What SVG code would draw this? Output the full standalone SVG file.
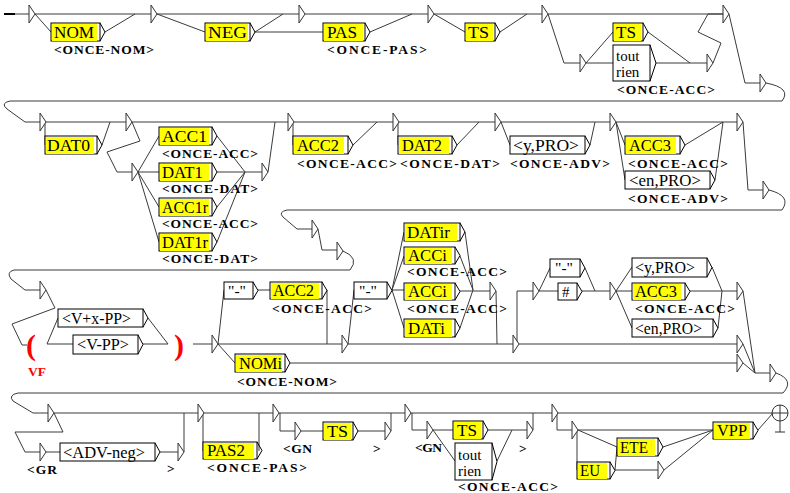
<svg xmlns="http://www.w3.org/2000/svg" xmlns:xlink="http://www.w3.org/1999/xlink" width="790" height="493" viewBox="0 0 790 493">
<style>
.ln{fill:none;stroke:#3a3a3a;stroke-width:1}
.bx{fill:#fff;stroke:#000;stroke-width:1}
.yl{fill:#ff0;stroke:none}
.ar{fill:none;stroke:#000;stroke-width:1}
.eps{fill:#fff;stroke:#333;stroke-width:1}
.tx{font-family:"Liberation Serif",serif;font-size:17px;fill:#000}
.sm{font-family:"Liberation Serif",serif;font-size:15px;fill:#000}
.out{font-family:"Liberation Serif",serif;font-size:13.5px;font-weight:bold;fill:#000}
.red{fill:#f00}
.par{font-family:"Liberation Serif",serif;font-size:30px;font-weight:bold;fill:#f00}
</style>
<defs>
<path id="e" class="eps" d="M0,-9V9L6,0Z"/>
</defs>
<rect width="790" height="493" fill="#fff"/>
<g id="connectors" class="ln">
<path d="M4,14H15" stroke="#000" stroke-width="2"/>
<path d="M15,14H29M35,14H151M35,14L51,32M105,32L135,14M157,14H299M157,14L205,32M255,32L283,14M255,32H323M305,14H428M370,32L412,14M434,14H542M434,14L465,32M500,32L527,14M548,14H723M548,14L564,63H580M586,63L613,32M586,63H613M648,32L690,63M656,63H707M713,63L721,43L698,32L708,14L723,14M729,14L745,83H760"/>
<path d="M766,83Q792,88 782,101L10,101Q0,103 7,109L25,122H40"/>
<path d="M46,122H126M45,122V145M102,145L110,122M132,122H288M132,122L140,141L107,152L117,172H132M138,172L159,136M138,172H159M138,172L159,207M138,172L159,242M217,136L245,172M217,172H262M217,207L245,172M217,242L245,172M268,172L275,122M294,122H393M293,122V145M353,145L377,122M399,122H495M398,122V145M457,145L479,122M501,122H610M501,122L510,145M590,145L595,122M616,122H737M616,122L625,145M616,122L625,180M685,145L723,122M715,180L723,122M743,122L748,190H763"/>
<path d="M769,190Q792,196 782,210L287,210Q278,212 283,217L297,229H312M318,229L322,250H337M343,251Q360,258 350,270L14,270Q6,272 11,279L25,290H40"/>
<path d="M46,290L55,308L12,324L22,345H27M47,344L58,318M47,344H73M148,318L168,344M143,344H168M193,344H212M218,344L224,290M218,344H342M218,344L235,363M258,290H270M327,290V344M348,344H513M348,344L354,290M392,290L404,232M392,290L404,256M392,290H404M392,290L404,328M465,232L473,290M460,256L473,290M460,291H490M460,328L473,290M496,291L497,344M517,344V291H533M519,344H737M539,291L550,268M539,291H558M585,268L595,291M582,291H610M616,291L632,267M616,291H632M616,291L632,328M712,267L722,291M718,328L722,291M690,291H737M743,291L755,373H770M743,344L755,373M743,363L755,373M290,363H737"/>
<path d="M776,373Q795,380 783,393L18,393Q8,395 13,401L33,413H48"/>
<path d="M54,413H198M54,413L63,432L15,432L25,452H40M46,452H60M160,452H178M184,452V413M204,413H273M203,413V451M259,451V413M279,413H405M280,413V431H295M301,431H323M358,431H385M391,431V413M411,413H552M412,413V430H427M433,430H453M433,430L455,461M488,430H527M497,461L512,430M533,430V413M558,413H772M557,413V430H572M578,430H713M578,430L617,447M577,430V470M615,470L617,447M615,470H658M663,447L713,430M664,470L713,430M758,430L773,413"/>
</g>
<g id="n_e1"><use href="#e" x="29" y="14"/></g>
<g id="n_nom"><rect class="bx" x="51" y="23" width="49" height="18"/><rect class="yl" x="52" y="24" width="45" height="17"/><path class="ar" d="M100,23L105,32L100,41"/><text class="tx" x="54" y="38" textLength="40" lengthAdjust="spacingAndGlyphs">NOM</text><text class="out" x="54" y="54" textLength="100" lengthAdjust="spacing">&lt;ONCE-NOM&gt;</text></g>
<g id="n_e2"><use href="#e" x="151" y="14"/></g>
<g id="n_neg"><rect class="bx" x="205" y="23" width="45" height="18"/><rect class="yl" x="206" y="24" width="42" height="17"/><path class="ar" d="M250,23L255,32L250,41"/><text class="tx" x="208" y="38" textLength="39" lengthAdjust="spacingAndGlyphs">NEG</text></g>
<g id="n_e3"><use href="#e" x="299" y="14"/></g>
<g id="n_pas"><rect class="bx" x="323" y="23" width="42" height="18"/><rect class="yl" x="324" y="24" width="39" height="17"/><path class="ar" d="M365,23L370,32L365,41"/><text class="tx" x="327" y="38" textLength="30" lengthAdjust="spacingAndGlyphs">PAS</text><text class="out" x="327" y="54" textLength="100" lengthAdjust="spacing">&lt;ONCE-PAS&gt;</text></g>
<g id="n_e4"><use href="#e" x="428" y="14"/></g>
<g id="n_ts1"><rect class="bx" x="465" y="23" width="30" height="18"/><rect class="yl" x="466" y="24" width="27" height="17"/><path class="ar" d="M495,23L500,32L495,41"/><text class="tx" x="468" y="38" textLength="21" lengthAdjust="spacingAndGlyphs">TS</text></g>
<g id="n_e5"><use href="#e" x="542" y="14"/></g>
<g id="n_e7"><use href="#e" x="580" y="63"/></g>
<g id="n_ts2"><rect class="bx" x="613" y="23" width="30" height="18"/><rect class="yl" x="614" y="24" width="27" height="17"/><path class="ar" d="M643,23L648,32L643,41"/><text class="tx" x="616" y="38" textLength="20" lengthAdjust="spacingAndGlyphs">TS</text></g>
<g id="n_toutrien1"><rect class="bx" x="613" y="45" width="37" height="36"/><path class="ar" d="M650,45L656,63L650,81"/><text class="sm" x="616" y="61">tout</text><text class="sm" x="616" y="77">rien</text><text class="out" x="617" y="94" textLength="98" lengthAdjust="spacing">&lt;ONCE-ACC&gt;</text></g>
<g id="n_e8"><use href="#e" x="707" y="63"/></g>
<g id="n_e6"><use href="#e" x="723" y="14"/></g>
<g id="n_e9"><use href="#e" x="760" y="83"/></g>
<g id="n_e10"><use href="#e" x="40" y="122"/></g>
<g id="n_dat0"><rect class="bx" x="45" y="136" width="52" height="18"/><rect class="yl" x="46" y="137" width="48" height="17"/><path class="ar" d="M97,136L102,145L97,154"/><text class="tx" x="47" y="151" textLength="43" lengthAdjust="spacingAndGlyphs">DAT0</text></g>
<g id="n_e11"><use href="#e" x="126" y="122"/></g>
<g id="n_e12"><use href="#e" x="132" y="172"/></g>
<g id="n_acc1"><rect class="bx" x="159" y="127" width="53" height="18"/><rect class="yl" x="160" y="128" width="49" height="17"/><path class="ar" d="M212,127L217,136L212,145"/><text class="tx" x="162" y="142" textLength="45" lengthAdjust="spacingAndGlyphs">ACC1</text><text class="out" x="162" y="158" textLength="96" lengthAdjust="spacing">&lt;ONCE-ACC&gt;</text></g>
<g id="n_dat1"><rect class="bx" x="159" y="163" width="53" height="18"/><rect class="yl" x="160" y="164" width="49" height="17"/><path class="ar" d="M212,163L217,172L212,181"/><text class="tx" x="162" y="178" textLength="41" lengthAdjust="spacingAndGlyphs">DAT1</text><text class="out" x="162" y="193" textLength="96" lengthAdjust="spacing">&lt;ONCE-DAT&gt;</text></g>
<g id="n_acc1r"><rect class="bx" x="159" y="198" width="53" height="18"/><rect class="yl" x="160" y="199" width="49" height="17"/><path class="ar" d="M212,198L217,207L212,216"/><text class="tx" x="162" y="213" textLength="46" lengthAdjust="spacingAndGlyphs">ACC1r</text><text class="out" x="162" y="228" textLength="96" lengthAdjust="spacing">&lt;ONCE-ACC&gt;</text></g>
<g id="n_dat1r"><rect class="bx" x="159" y="233" width="53" height="18"/><rect class="yl" x="160" y="234" width="49" height="17"/><path class="ar" d="M212,233L217,242L212,251"/><text class="tx" x="162" y="248" textLength="46" lengthAdjust="spacingAndGlyphs">DAT1r</text><text class="out" x="162" y="263" textLength="96" lengthAdjust="spacing">&lt;ONCE-DAT&gt;</text></g>
<g id="n_e13"><use href="#e" x="262" y="172"/></g>
<g id="n_e14"><use href="#e" x="288" y="122"/></g>
<g id="n_acc2"><rect class="bx" x="293" y="136" width="55" height="18"/><rect class="yl" x="294" y="137" width="50" height="17"/><path class="ar" d="M348,136L353,145L348,154"/><text class="tx" x="297" y="151" textLength="42" lengthAdjust="spacingAndGlyphs">ACC2</text><text class="out" x="297" y="168" textLength="100" lengthAdjust="spacing">&lt;ONCE-ACC&gt;</text></g>
<g id="n_e15"><use href="#e" x="393" y="122"/></g>
<g id="n_dat2"><rect class="bx" x="398" y="136" width="54" height="18"/><rect class="yl" x="399" y="137" width="50" height="17"/><path class="ar" d="M452,136L457,145L452,154"/><text class="tx" x="402" y="151" textLength="40" lengthAdjust="spacingAndGlyphs">DAT2</text><text class="out" x="400" y="168" textLength="100" lengthAdjust="spacing">&lt;ONCE-DAT&gt;</text></g>
<g id="n_e16"><use href="#e" x="495" y="122"/></g>
<g id="n_ypro1"><rect class="bx" x="510" y="136" width="75" height="18"/><path class="ar" d="M585,136L590,145L585,154"/><text class="tx" x="513" y="151" textLength="66" lengthAdjust="spacingAndGlyphs">&lt;y,PRO&gt;</text><text class="out" x="510" y="168" textLength="100" lengthAdjust="spacing">&lt;ONCE-ADV&gt;</text></g>
<g id="n_e17"><use href="#e" x="610" y="122"/></g>
<g id="n_acc3"><rect class="bx" x="625" y="136" width="55" height="18"/><rect class="yl" x="626" y="137" width="50" height="17"/><path class="ar" d="M680,136L685,145L680,154"/><text class="tx" x="629" y="151" textLength="42" lengthAdjust="spacingAndGlyphs">ACC3</text><text class="out" x="628" y="168" textLength="100" lengthAdjust="spacing">&lt;ONCE-ACC&gt;</text></g>
<g id="n_enpro1"><rect class="bx" x="625" y="171" width="85" height="18"/><path class="ar" d="M710,171L715,180L710,189"/><text class="tx" x="629" y="186" textLength="72" lengthAdjust="spacingAndGlyphs">&lt;en,PRO&gt;</text><text class="out" x="628" y="203" textLength="100" lengthAdjust="spacing">&lt;ONCE-ADV&gt;</text></g>
<g id="n_e18"><use href="#e" x="737" y="122"/></g>
<g id="n_e19"><use href="#e" x="763" y="190"/></g>
<g id="n_e20"><use href="#e" x="312" y="229"/></g>
<g id="n_e21"><use href="#e" x="337" y="251"/></g>
<g id="n_e22"><use href="#e" x="40" y="290"/></g>
<g id="n_vfopen"><text class="par" x="26" y="355">(</text><text class="out red" x="28" y="376" font-size="14">VF</text></g>
<g id="n_vxpp"><rect class="bx" x="58" y="309" width="85" height="18"/><path class="ar" d="M143,309L148,318L143,327"/><text class="tx" x="62" y="324" textLength="69" lengthAdjust="spacingAndGlyphs">&lt;V+x-PP&gt;</text></g>
<g id="n_vpp"><rect class="bx" x="73" y="335" width="65" height="19"/><path class="ar" d="M138,335L143,344.5L138,354"/><text class="tx" x="77" y="350" textLength="52" lengthAdjust="spacingAndGlyphs">&lt;V-PP&gt;</text></g>
<g id="n_vfclose"><text class="par" x="174" y="355">)</text></g>
<g id="n_e23"><use href="#e" x="212" y="344"/></g>
<g id="n_tiret1"><rect class="bx" x="224" y="282" width="29" height="17"/><path class="ar" d="M253,282L258,290.5L253,299"/><text class="sm" x="228" y="296" textLength="18" lengthAdjust="spacingAndGlyphs">"-"</text></g>
<g id="n_acc2b"><rect class="bx" x="270" y="282" width="52" height="17"/><rect class="yl" x="271" y="283" width="48" height="16"/><path class="ar" d="M322,282L327,290.5L322,299"/><text class="tx" x="273" y="296" textLength="41" lengthAdjust="spacingAndGlyphs">ACC2</text><text class="out" x="272" y="313" textLength="100" lengthAdjust="spacing">&lt;ONCE-ACC&gt;</text></g>
<g id="n_nomi"><rect class="bx" x="235" y="354" width="50" height="18"/><rect class="yl" x="236" y="355" width="46" height="17"/><path class="ar" d="M285,354L290,363L285,372"/><text class="tx" x="239" y="369" textLength="43" lengthAdjust="spacingAndGlyphs">NOMi</text><text class="out" x="237" y="386" textLength="100" lengthAdjust="spacing">&lt;ONCE-NOM&gt;</text></g>
<g id="n_e24"><use href="#e" x="342" y="344"/></g>
<g id="n_tiret2"><rect class="bx" x="354" y="282" width="33" height="17"/><path class="ar" d="M387,282L392,290.5L387,299"/><text class="sm" x="359" y="296" textLength="18" lengthAdjust="spacingAndGlyphs">"-"</text></g>
<g id="n_datir"><rect class="bx" x="404" y="223" width="56" height="18"/><rect class="yl" x="405" y="224" width="52" height="17"/><path class="ar" d="M460,223L465,232L460,241"/><text class="tx" x="407" y="238" textLength="43" lengthAdjust="spacingAndGlyphs">DATir</text></g>
<g id="n_acci1"><rect class="bx" x="404" y="247" width="51" height="17"/><rect class="yl" x="405" y="248" width="47" height="16"/><path class="ar" d="M455,247L460,255.5L455,264"/><text class="tx" x="408" y="261" textLength="39" lengthAdjust="spacingAndGlyphs">ACCi</text><text class="out" x="407" y="276" textLength="100" lengthAdjust="spacing">&lt;ONCE-ACC&gt;</text></g>
<g id="n_acci2"><rect class="bx" x="404" y="283" width="51" height="17"/><rect class="yl" x="405" y="284" width="47" height="16"/><path class="ar" d="M455,283L460,291.5L455,300"/><text class="tx" x="408" y="297" textLength="39" lengthAdjust="spacingAndGlyphs">ACCi</text><text class="out" x="407" y="313" textLength="100" lengthAdjust="spacing">&lt;ONCE-ACC&gt;</text></g>
<g id="n_dati"><rect class="bx" x="404" y="319" width="51" height="18"/><rect class="yl" x="405" y="320" width="47" height="17"/><path class="ar" d="M455,319L460,328L455,337"/><text class="tx" x="408" y="334" textLength="37" lengthAdjust="spacingAndGlyphs">DATi</text></g>
<g id="n_e25"><use href="#e" x="490" y="291"/></g>
<g id="n_e26"><use href="#e" x="513" y="344"/></g>
<g id="n_e27"><use href="#e" x="533" y="291"/></g>
<g id="n_tiret3"><rect class="bx" x="550" y="259" width="30" height="18"/><path class="ar" d="M580,259L585,268L580,277"/><text class="sm" x="555" y="273" textLength="18" lengthAdjust="spacingAndGlyphs">"-"</text></g>
<g id="n_hash"><rect class="bx" x="558" y="283" width="19" height="17"/><path class="ar" d="M577,283L582,291.5L577,300"/><text class="sm" x="562" y="297">#</text></g>
<g id="n_e28"><use href="#e" x="610" y="291"/></g>
<g id="n_ypro2"><rect class="bx" x="632" y="258" width="75" height="19"/><path class="ar" d="M707,258L712,267.5L707,277"/><text class="tx" x="635" y="273" textLength="60" lengthAdjust="spacingAndGlyphs">&lt;y,PRO&gt;</text></g>
<g id="n_acc3b"><rect class="bx" x="632" y="283" width="53" height="17"/><rect class="yl" x="633" y="284" width="48" height="16"/><path class="ar" d="M685,283L690,291.5L685,300"/><text class="tx" x="635" y="297" textLength="42" lengthAdjust="spacingAndGlyphs">ACC3</text><text class="out" x="635" y="313" textLength="100" lengthAdjust="spacing">&lt;ONCE-ACC&gt;</text></g>
<g id="n_enpro2"><rect class="bx" x="632" y="319" width="81" height="18"/><path class="ar" d="M713,319L718,328L713,337"/><text class="tx" x="635" y="334" textLength="67" lengthAdjust="spacingAndGlyphs">&lt;en,PRO&gt;</text></g>
<g id="n_e29"><use href="#e" x="737" y="291"/></g>
<g id="n_e31"><use href="#e" x="737" y="344"/></g>
<g id="n_e32"><use href="#e" x="737" y="363"/></g>
<g id="n_e30"><use href="#e" x="770" y="373"/></g>
<g id="n_e33"><use href="#e" x="48" y="413"/></g>
<g id="n_e35"><use href="#e" x="40" y="452"/><text class="out" x="27" y="474" textLength="30" lengthAdjust="spacing">&lt;GR</text></g>
<g id="n_advneg"><rect class="bx" x="60" y="443" width="95" height="18"/><path class="ar" d="M155,443L160,452L155,461"/><text class="tx" x="63" y="458" textLength="82" lengthAdjust="spacingAndGlyphs">&lt;ADV-neg&gt;</text></g>
<g id="n_e36"><use href="#e" x="178" y="452"/><text class="out" x="167" y="473">&gt;</text></g>
<g id="n_e34"><use href="#e" x="198" y="413"/></g>
<g id="n_pas2"><rect class="bx" x="203" y="442" width="54" height="17"/><rect class="yl" x="204" y="443" width="50" height="16"/><path class="ar" d="M257,442L262,450.5L257,459"/><text class="tx" x="207" y="456" textLength="38" lengthAdjust="spacingAndGlyphs">PAS2</text><text class="out" x="207" y="472" textLength="100" lengthAdjust="spacing">&lt;ONCE-PAS&gt;</text></g>
<g id="n_e37"><use href="#e" x="273" y="413"/></g>
<g id="n_e39"><use href="#e" x="295" y="431"/><text class="out" x="283" y="453" textLength="29" lengthAdjust="spacing">&lt;GN</text></g>
<g id="n_ts3"><rect class="bx" x="323" y="422" width="30" height="18"/><rect class="yl" x="324" y="423" width="27" height="17"/><path class="ar" d="M353,422L358,431L353,440"/><text class="tx" x="327" y="437" textLength="21" lengthAdjust="spacingAndGlyphs">TS</text></g>
<g id="n_e40"><use href="#e" x="385" y="431"/><text class="out" x="373" y="453">&gt;</text></g>
<g id="n_e38"><use href="#e" x="405" y="413"/></g>
<g id="n_e42"><use href="#e" x="427" y="430"/><text class="out" x="415" y="452" textLength="27" lengthAdjust="spacing">&lt;GN</text></g>
<g id="n_ts4"><rect class="bx" x="453" y="421" width="30" height="18"/><rect class="yl" x="454" y="422" width="27" height="17"/><path class="ar" d="M483,421L488,430L483,439"/><text class="tx" x="457" y="436" textLength="20" lengthAdjust="spacingAndGlyphs">TS</text></g>
<g id="n_toutrien2"><rect class="bx" x="455" y="443" width="37" height="37"/><path class="ar" d="M492,443L497,461.5L492,480"/><text class="sm" x="458" y="460">tout</text><text class="sm" x="458" y="476">rien</text><text class="out" x="458" y="491" textLength="100" lengthAdjust="spacing">&lt;ONCE-ACC&gt;</text></g>
<g id="n_e43"><use href="#e" x="527" y="430"/><text class="out" x="519" y="453">&gt;</text></g>
<g id="n_e41"><use href="#e" x="552" y="413"/></g>
<g id="n_e44"><use href="#e" x="572" y="430"/></g>
<g id="n_ete"><rect class="bx" x="617" y="438" width="41" height="18"/><rect class="yl" x="618" y="439" width="37" height="17"/><path class="ar" d="M658,438L663,447L658,456"/><text class="tx" x="620" y="453" textLength="28" lengthAdjust="spacingAndGlyphs">ETE</text></g>
<g id="n_eu"><rect class="bx" x="577" y="462" width="33" height="17"/><rect class="yl" x="578" y="463" width="29" height="16"/><path class="ar" d="M610,462L615,470.5L610,479"/><text class="tx" x="580" y="476" textLength="20" lengthAdjust="spacingAndGlyphs">EU</text></g>
<g id="n_e45"><use href="#e" x="658" y="470"/></g>
<g id="n_vpp2"><rect class="bx" x="713" y="422" width="40" height="17"/><rect class="yl" x="714" y="423" width="36" height="16"/><path class="ar" d="M753,422L758,430.5L753,439"/><text class="tx" x="717" y="436" textLength="30" lengthAdjust="spacingAndGlyphs">VPP</text></g>
<g id="n_final" fill="none" stroke="#333"><circle cx="780" cy="413" r="8"/><path d="M772,413H788M780,405V432M775,432H785"/></g>
</svg>
